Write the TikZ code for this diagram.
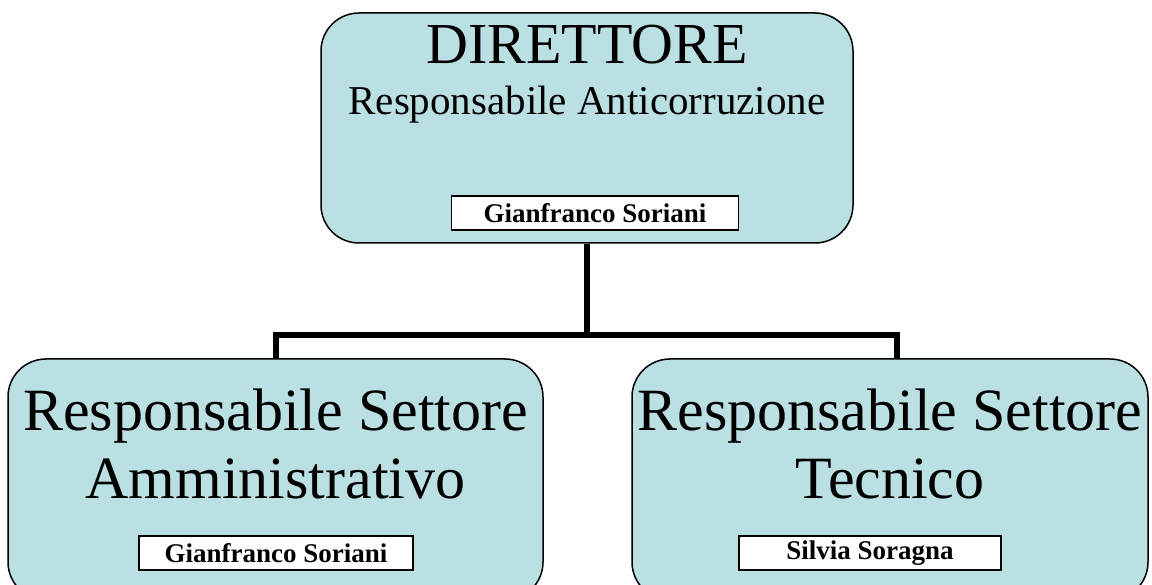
\documentclass[tikz,border=0pt]{standalone}
\usepackage{fontspec}
\setmainfont{Liberation Serif}
\usetikzlibrary{positioning}
\definecolor{boxblue}{HTML}{BBE0E3}

\begin{document}
\begin{tikzpicture}[x=1pt, y=-1pt,
    unit/.style={draw, fill=boxblue, rounded corners=38pt, line width=1.5pt, inner sep=0pt},
    title/.style={anchor=base, inner sep=0pt},
    namebox/.style={draw, fill=white, line width=1.2pt, minimum width=#1, minimum height=34pt,
        inner sep=0pt, font=\fontsize{27}{29}\selectfont\bfseries},
    link/.style={line width=6pt}]
    \useasboundingbox (0,0) rectangle (1152,585);

    % boxes
    \node[unit, minimum width=532pt, minimum height=230pt] (dir) at (587,128) {};
    \node[unit, minimum width=535pt, minimum height=241pt] (amm) at (275.5,479.5) {};
    \node[unit, minimum width=516pt, minimum height=241pt] (tec) at (890,479.5) {};

    % titles
    \node[title, font=\fontsize{58}{60}\selectfont] (dirtitle) at (587,64) {DIRETTORE};
    \node[title, font=\fontsize{41}{43}\selectfont] (dirrole) at (587,115) {Responsabile Anticorruzione};
    \node[title, font=\fontsize{60}{62}\selectfont] (ammtitle) at (275.5,431) {Responsabile Settore};
    \node[title, font=\fontsize{60}{62}\selectfont] (ammrole) at (275.5,498) {Amministrativo};
    \node[title, font=\fontsize{60}{62}\selectfont] (tectitle) at (890,431) {Responsabile Settore};
    \node[title, font=\fontsize{60}{62}\selectfont] (tecrole) at (890,498) {Tecnico};

    % names
    \node[namebox=287pt] (dirname) at (595,213) {Gianfranco Soriani};
    \node[namebox=274pt] (ammname) at (276,553) {Gianfranco Soriani};
    \node[namebox=262pt] (tecname) at (870,553) {Silvia Soragna};

    % connectors
    \coordinate (split) at (587,335);
    \draw[link] (dir.south) -- (split);
    \draw[link] (split) -| (amm.north);
    \draw[link] (split) -| ([xshift=7pt]tec.north);
\end{tikzpicture}
\end{document}
